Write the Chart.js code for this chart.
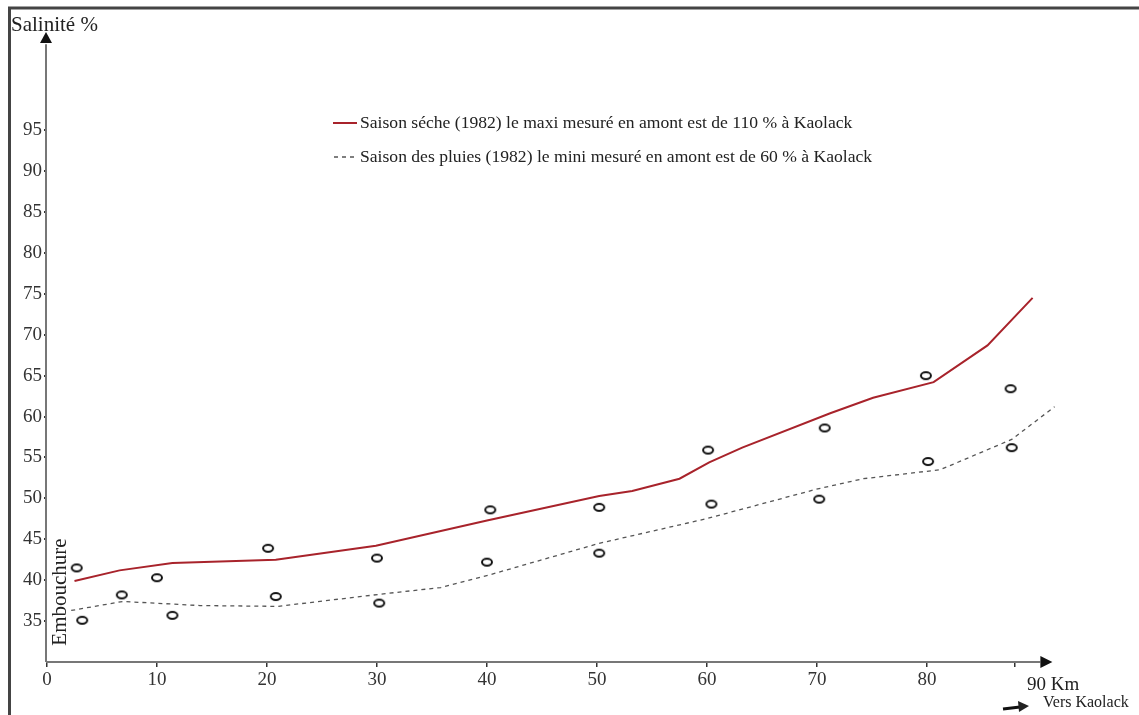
<!DOCTYPE html>
<html>
<head>
<meta charset="utf-8">
<script src="https://cdn.jsdelivr.net/npm/chart.js@4"></script>
<style>
  body { margin: 0; background: #fff; }
  canvas { display: block; }
</style>
</head>
<body>
<canvas id="chart" width="1139" height="715"></canvas>
<script>
// saison seche (ligne rouge)
const secheKm = [2.5, 6.6, 11.4, 20.8, 29.9, 40.0, 50.2, 53.2, 57.5, 60.2, 63.2, 71.2, 75.1, 80.6, 85.5, 89.6];
const secheSal = [39.9, 41.2, 42.1, 42.5, 44.2, 47.3, 50.3, 50.9, 52.4, 54.4, 56.2, 60.4, 62.3, 64.2, 68.7, 74.5];

// saison des pluies (tirets)
const pluieKm = [2.2, 6.9, 13.9, 21.0, 30.4, 35.8, 40.1, 50.2, 59.9, 69.9, 74.2, 81.2, 87.7, 91.6];
const pluieSal = [36.3, 37.4, 36.9, 36.8, 38.3, 39.1, 40.6, 44.5, 47.5, 51.1, 52.4, 53.5, 57.2, 61.2];

// mesures (petits ronds)
const mesureKm = [2.7, 3.2, 6.8, 10.0, 11.4, 20.1, 20.8, 30.0, 30.2, 40.3, 40.0, 50.2, 50.2, 60.1, 60.4, 70.7, 70.2, 79.9, 80.1, 87.6, 87.7];
const mesureSal = [41.5, 35.1, 38.2, 40.3, 35.7, 43.9, 38.0, 42.7, 37.2, 48.6, 42.2, 48.9, 43.3, 55.9, 49.3, 58.6, 49.9, 65.0, 54.5, 63.4, 56.2];

const yTicks = [35, 40, 45, 50, 55, 60, 65, 70, 75, 80, 85, 90, 95];
const xTicks = [0, 10, 20, 30, 40, 50, 60, 70, 80, 88];
const xLabels = ['0', '10', '20', '30', '40', '50', '60', '70', '80', ''];

const legendSeche = 'Saison séche (1982) le maxi mesuré en amont est de 110 % à Kaolack';
const legendPluie = 'Saison des pluies (1982) le mini mesuré en amont est de 60 % à Kaolack';

const SERIF = '"Liberation Serif", "DejaVu Serif", serif';

const toPoints = (xs, ys) => xs.map((x, i) => ({ x: x, y: ys[i] }));

// petit rond ovale pour les mesures
const makeOval = () => {
  const c = document.createElement('canvas');
  c.width = 14;
  c.height = 11;
  const g = c.getContext('2d');
  g.strokeStyle = '#111';
  g.lineWidth = 2;
  g.beginPath();
  g.ellipse(7, 5.5, 5, 3.4, 0, 0, Math.PI * 2);
  g.stroke();
  return c;
};

const arrowHead = (ctx, x, y, dir) => {
  ctx.beginPath();
  if (dir === 'up') {
    ctx.moveTo(x, y);
    ctx.lineTo(x - 6, y + 11);
    ctx.lineTo(x + 6, y + 11);
  } else {
    ctx.moveTo(x, y);
    ctx.lineTo(x - 12, y - 6);
    ctx.lineTo(x - 12, y + 6);
  }
  ctx.closePath();
  ctx.fill();
};

const decor = {
  id: 'decor',
  afterDraw(chart) {
    const ctx = chart.ctx;
    const xs = chart.scales.x;
    const ys = chart.scales.y;
    const x0 = xs.getPixelForValue(0);
    const y0 = ys.getPixelForValue(30);
    ctx.save();

    // cadre
    ctx.strokeStyle = '#444';
    ctx.lineWidth = 3;
    ctx.beginPath();
    ctx.moveTo(9.5, 715);
    ctx.lineTo(9.5, 8);
    ctx.lineTo(1139, 8);
    ctx.stroke();

    // axes avec fleches
    ctx.strokeStyle = '#777';
    ctx.lineWidth = 2;
    ctx.beginPath();
    ctx.moveTo(x0 - 1, y0);
    ctx.lineTo(x0 - 1, ys.getPixelForValue(105.5));
    ctx.moveTo(x0 - 1, y0);
    ctx.lineTo(xs.getPixelForValue(90.3), y0);
    ctx.stroke();
    ctx.fillStyle = '#111';
    arrowHead(ctx, x0 - 1, ys.getPixelForValue(107), 'up');
    arrowHead(ctx, xs.getPixelForValue(91.4), y0, 'right');

    ctx.fillStyle = '#222';
    ctx.textBaseline = 'middle';
    ctx.textAlign = 'left';
    ctx.font = '21px ' + SERIF;
    ctx.fillText('Salinité %', 11, 25);

    // legende
    const ds = chart.data.datasets;
    ctx.font = '17.6px ' + SERIF;
    ctx.lineWidth = 2;
    ctx.strokeStyle = ds[1].borderColor;
    ctx.beginPath();
    ctx.moveTo(333, 123);
    ctx.lineTo(357, 123);
    ctx.stroke();
    ctx.fillText(legendSeche, 360, 123);
    ctx.lineWidth = 1.3;
    ctx.strokeStyle = ds[2].borderColor;
    ctx.setLineDash(ds[2].borderDash);
    ctx.beginPath();
    ctx.moveTo(334, 157);
    ctx.lineTo(356, 157);
    ctx.stroke();
    ctx.setLineDash([]);
    ctx.fillText(legendPluie, 360, 157);

    // Embouchure vertical
    ctx.save();
    ctx.translate(60, 592);
    ctx.rotate(-Math.PI / 2);
    ctx.textAlign = 'center';
    ctx.font = '21px ' + SERIF;
    ctx.fillText('Embouchure', 0, 0);
    ctx.restore();

    ctx.font = '19px ' + SERIF;
    ctx.fillText('90 Km', 1027, 685);
    ctx.font = '16px ' + SERIF;
    ctx.fillText('Vers Kaolack', 1043, 703);

    // petite fleche vers Kaolack
    ctx.strokeStyle = '#111';
    ctx.lineWidth = 3;
    ctx.beginPath();
    ctx.moveTo(1003, 709);
    ctx.lineTo(1020, 707);
    ctx.stroke();
    ctx.beginPath();
    ctx.moveTo(1029, 706);
    ctx.lineTo(1018, 701);
    ctx.lineTo(1019, 712);
    ctx.closePath();
    ctx.fill();

    ctx.restore();
  }
};

new Chart(document.getElementById('chart'), {
  type: 'scatter',
  data: {
    datasets: [
      {
        label: 'Mesures',
        data: toPoints(mesureKm, mesureSal),
        pointStyle: makeOval(),
        showLine: false
      },
      {
        label: legendSeche,
        data: toPoints(secheKm, secheSal),
        showLine: true,
        borderColor: '#a8232b',
        borderWidth: 2,
        pointRadius: 0,
        tension: 0
      },
      {
        label: legendPluie,
        data: toPoints(pluieKm, pluieSal),
        showLine: true,
        borderColor: '#555',
        borderWidth: 1.3,
        borderDash: [4, 4],
        pointRadius: 0,
        tension: 0,
        clip: false
      }
    ]
  },
  options: {
    responsive: false,
    animation: false,
    layout: { padding: { left: 10, top: 32, right: 80, bottom: 13 } },
    plugins: {
      legend: { display: false },
      tooltip: { enabled: false }
    },
    scales: {
      x: {
        type: 'linear',
        min: 0,
        max: 92,
        afterFit: (s) => { s.height = 40; },
        afterBuildTicks: (s) => { s.ticks = xTicks.map((v) => ({ value: v })); },
        border: { display: false },
        grid: { drawOnChartArea: false, drawTicks: true, tickLength: 5, color: '#333', lineWidth: 1.5 },
        ticks: {
          padding: 2,
          color: '#333',
          maxRotation: 0,
          font: { family: SERIF, size: 19 },
          callback: (v) => xLabels[xTicks.indexOf(v)]
        }
      },
      y: {
        type: 'linear',
        min: 30,
        max: 107,
        afterFit: (s) => { s.width = 37; },
        afterBuildTicks: (s) => { s.ticks = yTicks.map((v) => ({ value: v })); },
        border: { display: false },
        grid: { drawOnChartArea: false, drawTicks: true, tickLength: 3, color: '#333', lineWidth: 2 },
        ticks: {
          padding: 2,
          color: '#333',
          font: { family: SERIF, size: 19 }
        }
      }
    }
  },
  plugins: [decor]
});
</script>
</body>
</html>
